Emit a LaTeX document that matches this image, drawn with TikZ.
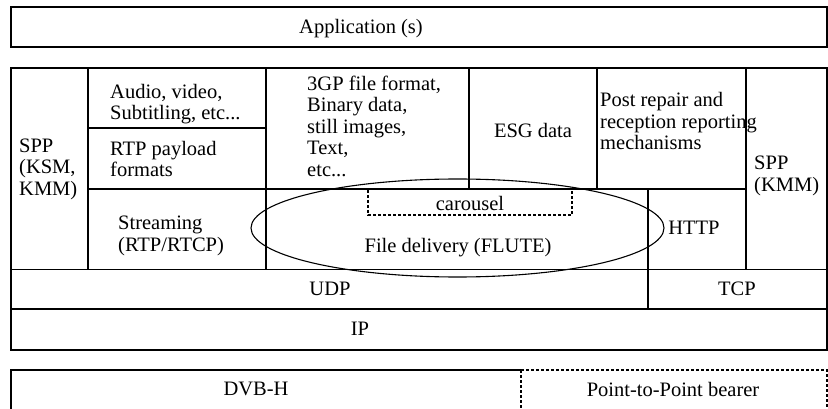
\documentclass[tikz,border=0pt]{standalone}
\usepackage{fontspec}
\setmainfont{Liberation Serif}
\begin{document}
\begin{tikzpicture}[x=1pt,y=-1pt,
  frame/.style={line width=1.3pt},
  dashframe/.style={line width=1.3pt,dash pattern=on 3pt off 2pt},
  lbl/.style={inner sep=0pt,font=\fontsize{20.5}{21.5}\selectfont},
  lblL/.style={lbl,align=left,anchor=west}]
\useasboundingbox (0,0) rectangle (828,409);
% Application box
\draw[frame] (11,7) rectangle (827,47);
\node[lbl] (app) at (361,29) {Application (s)};
% main stack outline
\draw[frame] (11,68) rectangle (827,350);
% horizontal lines
\draw[frame] (11,269.5) -- (827,269.5);
\draw[frame] (11,309) -- (827,309);
\draw[frame] (88,189) -- (746,189);
\draw[frame] (88,128) -- (266,128);
% vertical lines
\draw[frame] (88,68) -- (88,269.5);
\draw[frame] (266,68) -- (266,269.5);
\draw[frame] (469,68) -- (469,189);
\draw[frame] (597,68) -- (597,189);
\draw[frame] (746,68) -- (746,269.5);
\draw[frame] (648,189) -- (648,309);
% carousel dashed box
\draw[dashframe] (368,190) -- (368,215) -- (572,215) -- (572,190);
\node[lbl] (carousel) at (470,203) {carousel};
% ellipse
\draw[line width=1.1pt] (457.5,228) ellipse [x radius=206.5, y radius=49];
% labels
\node[lblL] (sppl) at (19,169) {SPP\\(KSM,\\KMM)};
\node[lblL] (audio) at (110,104) {Audio, video,\\Subtitling, etc...};
\node[lblL] (rtp) at (110,159) {RTP payload\\formats};
\node[lblL] (stream) at (118,236) {Streaming\\(RTP/RTCP)};
\node[lblL] (gp) at (307,126) {3GP file format,\\Binary data,\\still images,\\Text,\\etc...};
\node[lbl] (esg) at (533,130) {ESG data};
\node[lblL] (post) at (600,121) {Post repair and\\reception reporting\\mechanisms};
\node[lblL] (sppr) at (754,176) {SPP\\(KMM)};
\node[lbl] (flute) at (458,248) {File delivery (FLUTE)};
\node[lbl] (http) at (694,228) {HTTP};
\node[lbl] (udp) at (330,289) {UDP};
\node[lbl] (tcp) at (737,289) {TCP};
\node[lbl] (ip) at (360,329) {IP};
% bottom bearers
\draw[frame] (11,412) -- (11,370) -- (521,370);
\draw[dashframe] (521,370) -- (827,370) -- (827,412);
\draw[dashframe] (521,370) -- (521,412);
\node[lbl] (dvbh) at (256,389) {DVB-H};
\node[lbl] (ptp) at (673,389) {Point-to-Point bearer};
\end{tikzpicture}
\end{document}
